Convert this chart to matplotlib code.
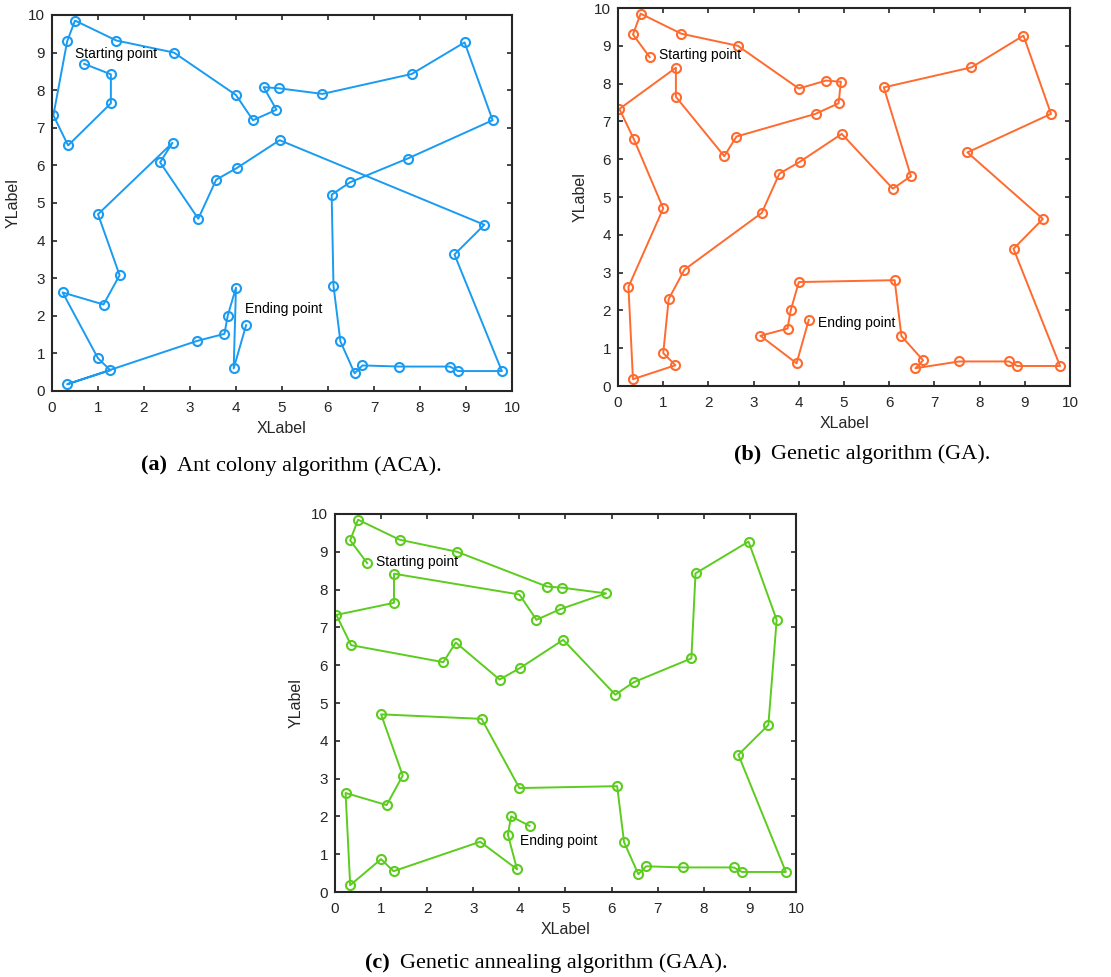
import matplotlib
matplotlib.use("Agg")
import matplotlib.pyplot as plt
import numpy as np

plt.rcParams["font.family"] = ["Liberation Sans", "DejaVu Sans"]

# city coordinates (same 50 cities in every panel)
city_x = [0.70, 0.33, 0.50, 1.40, 2.65, 4.60, 4.93, 5.88, 4.88, 4.37,
          4.00, 1.28, 1.28, 0.03, 0.35, 2.35, 2.62, 3.57, 4.02, 4.95,
          6.08, 6.48, 7.73, 7.82, 8.97, 9.58, 9.40, 8.75, 9.78, 8.83,
          8.65, 7.55, 6.75, 6.58, 6.27, 6.12, 4.00, 3.18, 1.00, 1.47,
          1.12, 0.23, 0.33, 1.00, 1.27, 3.15, 3.95, 3.75, 3.82, 4.22]
city_y = [8.70, 9.30, 9.85, 9.32, 9.00, 8.08, 8.05, 7.90, 7.48, 7.20,
          7.87, 8.42, 7.65, 7.33, 6.53, 6.08, 6.60, 5.62, 5.93, 6.67,
          5.22, 5.55, 6.18, 8.43, 9.27, 7.20, 4.42, 3.63, 0.53, 0.53,
          0.65, 0.65, 0.68, 0.47, 1.32, 2.80, 2.75, 4.58, 4.70, 3.08,
          2.30, 2.62, 0.18, 0.87, 0.55, 1.33, 0.60, 1.52, 2.00, 1.75]

# visiting order of each algorithm (indices into the city lists)
route_aca = [0, 11, 12, 14, 13, 1, 2, 3, 4, 10, 9, 8, 5, 6, 7, 23, 24, 25,
             22, 21, 20, 35, 34, 33, 32, 31, 30, 29, 28, 27, 26, 19, 18, 17,
             37, 15, 16, 38, 39, 40, 41, 43, 44, 42, 45, 47, 48, 36, 46, 49]
route_ga = [0, 1, 2, 3, 4, 10, 5, 6, 8, 9, 16, 15, 12, 11, 13, 14, 38, 41,
            42, 44, 43, 40, 39, 37, 17, 18, 19, 20, 21, 7, 23, 24, 25, 22,
            26, 27, 28, 29, 30, 31, 33, 32, 34, 35, 36, 48, 47, 45, 46, 49]
route_gaa = list(range(50))

colors = ["#1a9bf2", "#ff6a2e", "#5ccc1e"]
captions = [("(a)", "Ant colony algorithm (ACA)."),
            ("(b)", "Genetic algorithm (GA)."),
            ("(c)", "Genetic annealing algorithm (GAA).")]
start_pos = [(0.50, 8.97), (0.90, 8.77), (0.90, 8.74)]
end_pos = [(4.20, 2.19), (4.42, 1.68), (4.02, 1.36)]

fig = plt.figure(figsize=(11.11, 9.77), dpi=100)
boxes = [[0.0468, 0.5998, 0.4140, 0.3849],
         [0.5563, 0.6049, 0.4068, 0.3869],
         [0.3015, 0.0870, 0.4150, 0.3869]]
routes = [route_aca, route_ga, route_gaa]
# caption centre x and baseline y (figure fraction)
cap_xy = [(0.262, 0.518), (0.776, 0.530), (0.492, 0.009)]

dark = "#262626"
cx = np.array(city_x)
cy = np.array(city_y)
for i in range(3):
    ax = fig.add_axes(boxes[i])
    r = routes[i]
    ax.plot(cx[r], cy[r], "-o", color=colors[i], lw=1.4, ms=6.5,
            mfc="none", mew=1.5)
    ax.set_xlim(0, 10)
    ax.set_ylim(0, 10)
    ax.set_xticks(range(11))
    ax.set_yticks(range(11))
    ax.tick_params(direction="in", top=True, right=True, length=3.8,
                   width=1.2, labelsize=11, colors=dark, labelcolor=dark)
    ax.tick_params(axis="x", pad=7.5)
    ax.tick_params(axis="y", pad=5)
    for s in ax.spines.values():
        s.set_linewidth(1.5)
        s.set_color(dark)
    ax.set_xlabel("XLabel", fontsize=11.5, color=dark, labelpad=4)
    ax.set_ylabel("YLabel", fontsize=11.5, color=dark, labelpad=5)
    ax.text(start_pos[i][0], start_pos[i][1], "Starting point",
            fontsize=10, va="center", ha="left")
    ax.text(end_pos[i][0], end_pos[i][1], "Ending point",
            fontsize=10, va="center", ha="left")

# captions: bold tag + plain text, centred as one line
fig.canvas.draw()
rend = fig.canvas.get_renderer()
W = fig.bbox.width
for i in range(3):
    lab, txt = captions[i]
    t1 = fig.text(0, cap_xy[i][1], lab, fontsize=16, weight="bold",
                  family="Liberation Serif", ha="left", va="baseline")
    t2 = fig.text(0, cap_xy[i][1], txt, fontsize=16,
                  family="Liberation Serif", ha="left", va="baseline")
    w1 = t1.get_window_extent(rend).width / W
    w2 = t2.get_window_extent(rend).width / W
    gap = 0.009
    x0 = cap_xy[i][0] - (w1 + gap + w2) / 2
    t1.set_x(x0)
    t2.set_x(x0 + w1 + gap)

fig.savefig("out.png", dpi=100)
